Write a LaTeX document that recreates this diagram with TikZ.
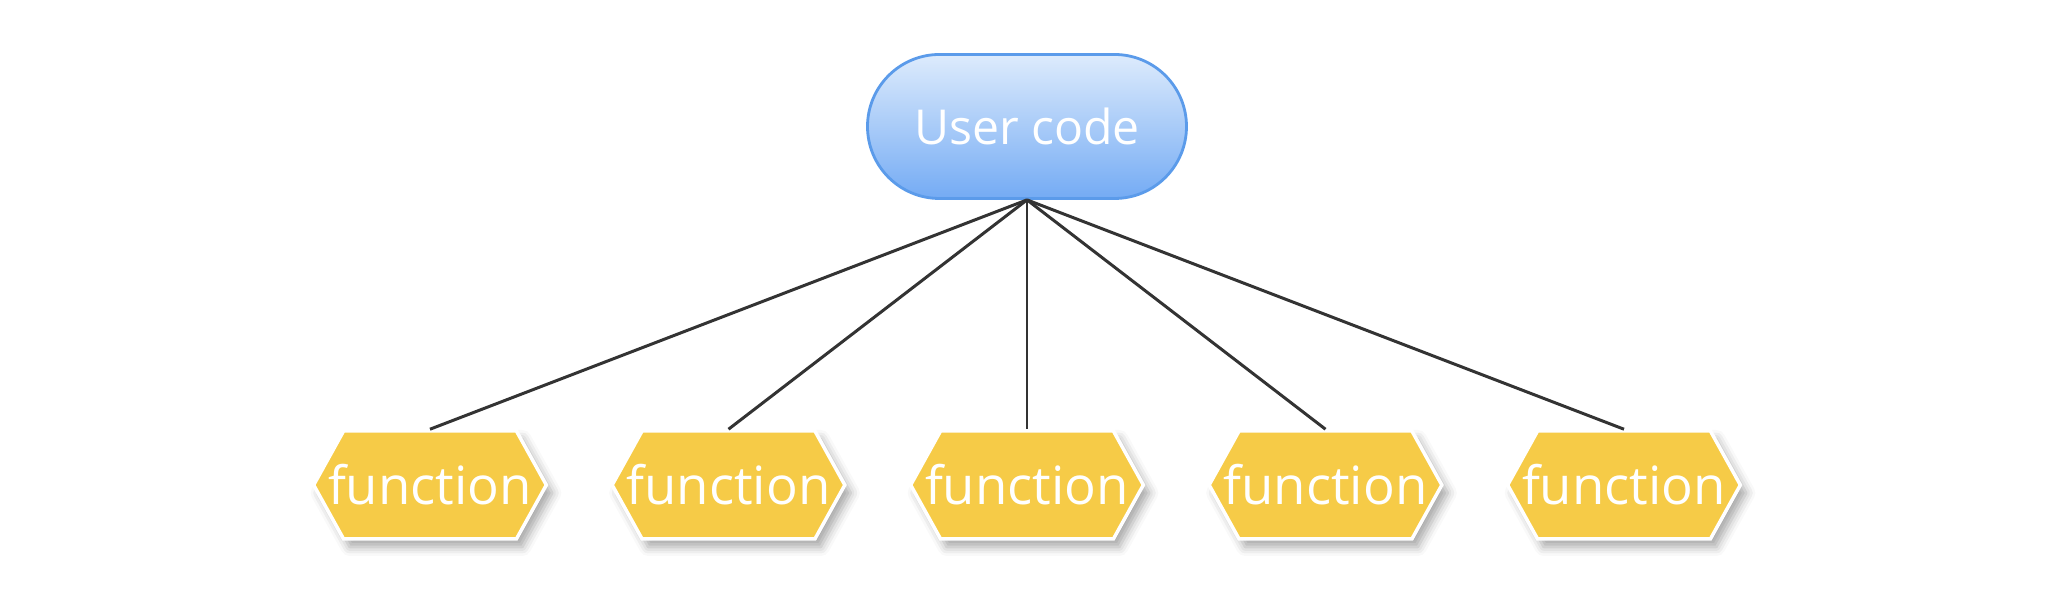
\documentclass[tikz,border=0pt]{standalone}
\usepackage{fontspec}
\setmainfont{Open Sans}
\usepackage{xcolor}
\definecolor{sky-top}{HTML}{DDEBFC}
\definecolor{sky-bottom}{HTML}{74ABF4}
\definecolor{sky-edge}{HTML}{5B9BEA}
\definecolor{mustard}{HTML}{F6CB47}
\definecolor{wire}{HTML}{333333}
\usetikzlibrary{positioning}
\usetikzlibrary{shapes.symbols}
\usetikzlibrary{shadows.blur}
\tikzset{caller/.style = {draw=sky-edge, line width=0.8pt, top color=sky-top, bottom color=sky-bottom, rounded corners=0.72cm, minimum width=3.19cm, minimum height=1.44cm, text=white, align=center, font=\fontsize{13.7}{16}\selectfont}}
\tikzset{func/.style = {signal, signal to=east and west, signal pointer angle=122, draw=white, line width=1pt, fill=mustard, minimum height=1.08cm, inner xsep=-0.155cm, text=white, font=\fontsize{15}{17}\selectfont, anchor=center, blur shadow={shadow xshift=0.06cm, shadow yshift=-0.08cm, shadow blur radius=0.09cm, shadow opacity=35}}}
\tikzset{link/.style = {draw=wire, line width=0.85pt}}

\begin{document}
\begin{tikzpicture}[
  node distance = 2.985cm
]
\useasboundingbox (0,0) rectangle (20.48,6.04);

\node[caller] (user) at (10.27,4.775) {User code};
\node[func] (f3) at (10.27,1.19) {function};
% centre to centre, so the width of the text does not shift them
\node[left=of f3.center, func] (f2) {function};
\node[left=of f2.center, func] (f1) {function};
\node[right=of f3.center, func] (f4) {function};
\node[right=of f4.center, func] (f5) {function};

\draw[link] (user.south) -- (f1.north);
\draw[link] (user.south) -- (f2.north);
\draw[link] (user.south) -- (f3.north);
\draw[link] (user.south) -- (f4.north);
\draw[link] (user.south) -- (f5.north);

\end{tikzpicture}
\end{document}
